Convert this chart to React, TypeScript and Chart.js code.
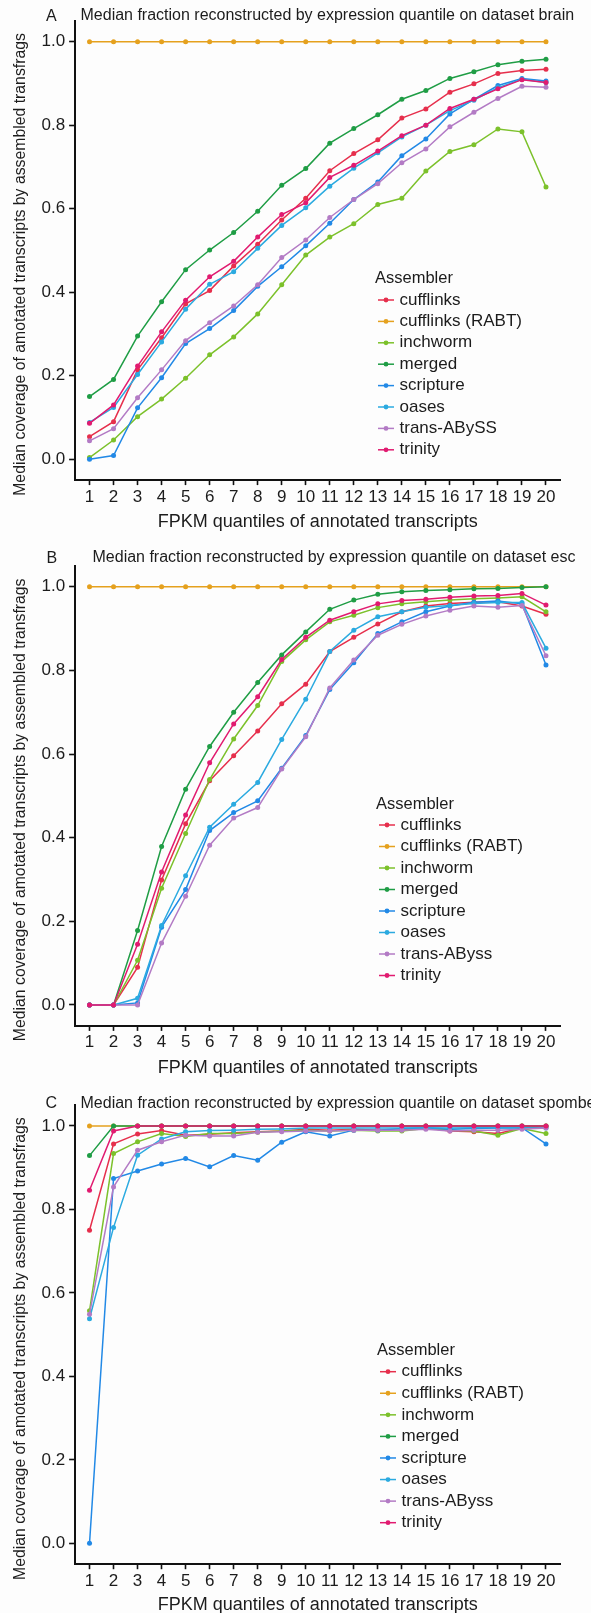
import React, { useEffect, useRef } from 'react';
import Chart from 'chart.js/auto';

const FONT = "'Liberation Sans', Arial, Helvetica, sans-serif";
const TEXT_COLOR = '#1c1c1c';
const AXIS_COLOR = '#111111';
const BG = '#fdfdfd';

const QUANTILES = [1, 2, 3, 4, 5, 6, 7, 8, 9, 10, 11, 12, 13, 14, 15, 16, 17, 18, 19, 20];
const Y_TICKS = [0, 0.2, 0.4, 0.6, 0.8, 1.0];
const X_TITLE = 'FPKM quantiles of annotated transcripts';
const Y_TITLE = 'Median coverage of amotated transcripts by assembled transfrags';
const LEGEND_TITLE = 'Assembler';

const ASSEMBLERS_BRAIN = ['cufflinks', 'cufflinks (RABT)', 'inchworm', 'merged', 'scripture', 'oases', 'trans-ABySS', 'trinity'];
const ASSEMBLERS_OTHER = ['cufflinks', 'cufflinks (RABT)', 'inchworm', 'merged', 'scripture', 'oases', 'trans-AByss', 'trinity'];
const SERIES_COLORS = ['#E62F4C', '#E5A11E', '#7CC12B', '#1F9D45', '#2289E6', '#2BAAE0', '#B37BC5', '#E11B70'];

// Panel A: brain
const brainCufflinks = [0.054, 0.090, 0.214, 0.291, 0.372, 0.404, 0.463, 0.515, 0.573, 0.625, 0.691, 0.732, 0.765, 0.817, 0.839, 0.879, 0.899, 0.924, 0.931, 0.934];
const brainRabt = [1, 1, 1, 1, 1, 1, 1, 1, 1, 1, 1, 1, 1, 1, 1, 1, 1, 1, 1, 1];
const brainInchworm = [0.004, 0.046, 0.102, 0.144, 0.194, 0.250, 0.293, 0.348, 0.418, 0.489, 0.532, 0.564, 0.610, 0.625, 0.690, 0.737, 0.753, 0.791, 0.784, 0.652];
const brainMerged = [0.150, 0.191, 0.295, 0.377, 0.454, 0.501, 0.543, 0.594, 0.656, 0.696, 0.757, 0.792, 0.825, 0.862, 0.883, 0.912, 0.928, 0.945, 0.953, 0.958];
const brainScripture = [0.0, 0.009, 0.123, 0.195, 0.277, 0.313, 0.356, 0.414, 0.461, 0.511, 0.565, 0.622, 0.664, 0.727, 0.767, 0.827, 0.862, 0.895, 0.912, 0.906];
const brainOases = [0.088, 0.124, 0.203, 0.281, 0.359, 0.419, 0.449, 0.505, 0.560, 0.602, 0.654, 0.697, 0.734, 0.772, 0.800, 0.835, 0.860, 0.890, 0.910, 0.902];
const brainTransAbyss = [0.044, 0.073, 0.147, 0.214, 0.284, 0.327, 0.367, 0.418, 0.483, 0.525, 0.579, 0.622, 0.660, 0.710, 0.743, 0.796, 0.831, 0.864, 0.893, 0.891];
const brainTrinity = [0.086, 0.130, 0.223, 0.305, 0.381, 0.437, 0.474, 0.532, 0.586, 0.614, 0.675, 0.704, 0.738, 0.775, 0.800, 0.840, 0.862, 0.887, 0.909, 0.902];

// Panel B: esc
const escCufflinks = [0, 0, 0.090, 0.299, 0.433, 0.536, 0.596, 0.655, 0.720, 0.767, 0.845, 0.879, 0.911, 0.940, 0.954, 0.960, 0.963, 0.964, 0.954, 0.934];
const escRabt = [1, 1, 1, 1, 1, 1, 1, 1, 1, 1, 1, 1, 1, 1, 1, 1, 1, 1, 1, 1];
const escInchworm = [0, 0, 0.107, 0.279, 0.410, 0.539, 0.636, 0.716, 0.821, 0.873, 0.916, 0.932, 0.950, 0.959, 0.964, 0.968, 0.971, 0.973, 0.976, 0.940];
const escMerged = [0, 0, 0.178, 0.379, 0.516, 0.618, 0.700, 0.771, 0.837, 0.892, 0.946, 0.968, 0.982, 0.988, 0.991, 0.993, 0.995, 0.996, 0.998, 1.0];
const escScripture = [0, 0, 0.005, 0.186, 0.276, 0.417, 0.460, 0.488, 0.566, 0.644, 0.754, 0.818, 0.888, 0.916, 0.940, 0.954, 0.963, 0.966, 0.959, 0.813];
const escOases = [0, 0, 0.016, 0.190, 0.309, 0.425, 0.480, 0.532, 0.635, 0.731, 0.845, 0.896, 0.928, 0.940, 0.951, 0.955, 0.960, 0.962, 0.962, 0.853];
const escTransAbyss = [0, 0, 0, 0.148, 0.260, 0.382, 0.447, 0.472, 0.564, 0.641, 0.758, 0.825, 0.884, 0.910, 0.930, 0.944, 0.954, 0.951, 0.955, 0.835];
const escTrinity = [0, 0, 0.145, 0.318, 0.454, 0.579, 0.672, 0.737, 0.826, 0.879, 0.920, 0.940, 0.959, 0.967, 0.970, 0.975, 0.978, 0.979, 0.984, 0.956];

// Panel C: spombe
const spombeCufflinks = [0.750, 0.957, 0.981, 0.989, 0.978, 0.980, 0.984, 0.986, 0.988, 0.992, 0.990, 0.992, 0.990, 0.990, 0.996, 0.988, 0.986, 0.982, 0.995, 0.998];
const spombeRabt = [1, 1, 1, 1, 1, 1, 1, 1, 1, 1, 1, 1, 1, 1, 1, 1, 1, 1, 1, 1];
const spombeInchworm = [0.557, 0.934, 0.962, 0.982, 0.975, 0.982, 0.982, 0.985, 0.988, 0.990, 0.988, 0.990, 0.988, 0.988, 0.994, 0.990, 0.988, 0.978, 0.994, 0.982];
const spombeMerged = [0.929, 1, 1, 1, 1, 1, 1, 1, 1, 1, 1, 1, 1, 1, 1, 1, 1, 1, 1, 1];
const spombeScripture = [0.0, 0.874, 0.892, 0.909, 0.922, 0.902, 0.929, 0.918, 0.961, 0.986, 0.976, 0.990, 0.990, 0.994, 0.995, 0.992, 0.994, 0.995, 0.996, 0.957];
const spombeOases = [0.538, 0.757, 0.930, 0.969, 0.986, 0.989, 0.990, 0.992, 0.993, 0.995, 0.995, 0.995, 0.995, 0.995, 0.996, 0.995, 0.996, 0.996, 0.996, 0.995];
const spombeTransAbyss = [0.549, 0.854, 0.942, 0.962, 0.978, 0.976, 0.976, 0.985, 0.986, 0.988, 0.988, 0.990, 0.990, 0.990, 0.992, 0.988, 0.990, 0.990, 0.992, 0.995];
const spombeTrinity = [0.846, 0.988, 1, 1, 1, 1, 1, 1, 1, 1, 1, 1, 1, 1, 1, 1, 1, 1, 1, 1];

const PLOT_LEFT = 75.1;
const PLOT_RIGHT = 560.4;

const PANELS = [
  {
    letter: 'A',
    title: 'Median fraction reconstructed by expression quantile on dataset brain',
    names: ASSEMBLERS_BRAIN,
    series: [brainCufflinks, brainRabt, brainInchworm, brainMerged, brainScripture, brainOases, brainTransAbyss, brainTrinity],
    box: { top: 0, height: 540, chartTop: 20.8, chartBottom: 480.1, xTitlePad: 7.5, letterX: 46, letterBase: 21, titleX: 80.5, titleBase: 20, legendX: 375, legendTitleY: 278, legendItemY: 300, legendStep: 21.4 },
  },
  {
    letter: 'B',
    title: 'Median fraction reconstructed by expression quantile on dataset esc',
    names: ASSEMBLERS_OTHER,
    series: [escCufflinks, escRabt, escInchworm, escMerged, escScripture, escOases, escTransAbyss, escTrinity],
    box: { top: 540, height: 545, chartTop: 25.8, chartBottom: 485.9, xTitlePad: 5.9, letterX: 46.5, letterBase: 23, titleX: 92.5, titleBase: 21.5, legendX: 376, legendTitleY: 264, legendItemY: 285, legendStep: 21.5 },
  },
  {
    letter: 'C',
    title: 'Median fraction reconstructed by expression quantile on dataset spombe',
    names: ASSEMBLERS_OTHER,
    series: [spombeCufflinks, spombeRabt, spombeInchworm, spombeMerged, spombeScripture, spombeOases, spombeTransAbyss, spombeTrinity],
    box: { top: 1085, height: 540, chartTop: 20.1, chartBottom: 479.2, xTitlePad: 9.2, letterX: 45.5, letterBase: 22.5, titleX: 80.5, titleBase: 22.6, legendX: 377, legendTitleY: 265, legendItemY: 286.7, legendStep: 21.57 },
  },
];

const decorPlugin = {
  id: 'panelDecor',
  afterDraw(chart: any, _args: any, opts: any) {
    const ctx = chart.ctx;
    const area = chart.chartArea;
    ctx.save();
    ctx.fillStyle = TEXT_COLOR;
    ctx.textAlign = 'left';
    ctx.textBaseline = 'alphabetic';
    ctx.font = `16px ${FONT}`;
    ctx.fillText(opts.letter, opts.letterX, opts.letterBase);
    ctx.fillText(opts.title, opts.titleX, opts.titleBase);

    // y axis title
    ctx.save();
    ctx.translate(21, (area.top + area.bottom) / 2 + 14);
    ctx.rotate(-Math.PI / 2);
    ctx.textAlign = 'center';
    ctx.textBaseline = 'middle';
    ctx.font = `15.8px ${FONT}`;
    ctx.fillText(Y_TITLE, 0, 0);
    ctx.restore();

    // legend
    ctx.textBaseline = 'middle';
    ctx.textAlign = 'left';
    ctx.font = `16.5px ${FONT}`;
    ctx.fillText(LEGEND_TITLE, opts.legendX, opts.legendTitleY);
    ctx.font = `17px ${FONT}`;
    chart.data.datasets.forEach((ds: any, i: number) => {
      const y = opts.legendItemY + i * opts.legendStep;
      ctx.strokeStyle = ds.borderColor;
      ctx.lineWidth = 1.5;
      ctx.beginPath();
      ctx.moveTo(opts.legendX + 3, y);
      ctx.lineTo(opts.legendX + 19, y);
      ctx.stroke();
      ctx.fillStyle = ds.borderColor;
      ctx.beginPath();
      ctx.arc(opts.legendX + 11, y, 2.4, 0, Math.PI * 2);
      ctx.fill();
      ctx.fillStyle = TEXT_COLOR;
      ctx.fillText(ds.label, opts.legendX + 24.5, y);
    });
    ctx.restore();
  },
};

function Panel({ cfg }: { cfg: any }) {
  const ref = useRef<HTMLCanvasElement>(null);
  useEffect(() => {
    const b = cfg.box;
    const chart = new Chart(ref.current as HTMLCanvasElement, {
      type: 'line',
      data: {
        datasets: cfg.series.map((vals: number[], i: number) => ({
          label: cfg.names[i],
          data: QUANTILES.map((q, j) => ({ x: q, y: vals[j] })),
          borderColor: SERIES_COLORS[i],
          backgroundColor: SERIES_COLORS[i],
          pointBackgroundColor: SERIES_COLORS[i],
          pointBorderColor: SERIES_COLORS[i],
          borderWidth: 1.5,
          pointRadius: 2.5,
          pointBorderWidth: 0,
          tension: 0,
          order: 7 - i,
        })),
      },
      options: {
        animation: false,
        responsive: false,
        maintainAspectRatio: false,
        devicePixelRatio: 1,
        layout: { padding: { top: b.chartTop, left: 0, right: 591 - PLOT_RIGHT, bottom: 0 } },
        plugins: {
          legend: { display: false },
          tooltip: { enabled: false },
          panelDecor: {
            letter: cfg.letter,
            title: cfg.title,
            letterX: b.letterX,
            letterBase: b.letterBase,
            titleX: b.titleX,
            titleBase: b.titleBase,
            legendX: b.legendX,
            legendTitleY: b.legendTitleY,
            legendItemY: b.legendItemY,
            legendStep: b.legendStep,
          },
        } as any,
        scales: {
          x: {
            type: 'linear',
            min: 0.4,
            max: 20.6,
            afterBuildTicks: (s: any) => {
              s.ticks = QUANTILES.map((v) => ({ value: v }));
            },
            afterFit: (s: any) => {
              s.height = b.height - b.chartBottom;
            },
            grid: { drawOnChartArea: false, drawTicks: true, tickLength: 5, tickColor: AXIS_COLOR, tickWidth: 1.6 },
            border: { display: true, color: AXIS_COLOR, width: 2 },
            ticks: {
              autoSkip: false,
              maxRotation: 0,
              padding: 1.7,
              color: TEXT_COLOR,
              font: { family: FONT, size: 17 },
              callback: (v: any) => String(v),
            },
            title: {
              display: true,
              text: X_TITLE,
              color: TEXT_COLOR,
              font: { family: FONT, size: 18 },
              padding: { top: 0, bottom: b.xTitlePad },
            },
          },
          y: {
            type: 'linear',
            min: -0.05,
            max: 1.05,
            afterBuildTicks: (s: any) => {
              s.ticks = Y_TICKS.map((v) => ({ value: v }));
            },
            afterFit: (s: any) => {
              s.width = PLOT_LEFT;
            },
            grid: { drawOnChartArea: false, drawTicks: true, tickLength: 6, tickColor: AXIS_COLOR, tickWidth: 1.6 },
            border: { display: true, color: AXIS_COLOR, width: 2 },
            ticks: {
              padding: 4,
              color: TEXT_COLOR,
              font: { family: FONT, size: 17 },
              callback: (v: any) => Number(v).toFixed(1),
            },
            title: { display: false },
          },
        },
      },
      plugins: [decorPlugin],
    } as any);
    return () => chart.destroy();
  }, [cfg]);
  return (
    <canvas
      ref={ref}
      width={591}
      height={cfg.box.height}
      style={{ position: 'absolute', left: 0, top: cfg.box.top, width: 591, height: cfg.box.height, display: 'block' }}
    />
  );
}

export default function App() {
  useEffect(() => {
    document.documentElement.style.overflow = 'hidden';
    document.body.style.overflow = 'hidden';
    document.body.style.margin = '0';
  }, []);
  return (
    <div style={{ position: 'absolute', left: 0, top: 0, width: 591, height: 1625, background: BG, overflow: 'hidden' }}>
      {PANELS.map((p) => (
        <Panel key={p.letter} cfg={p} />
      ))}
    </div>
  );
}
